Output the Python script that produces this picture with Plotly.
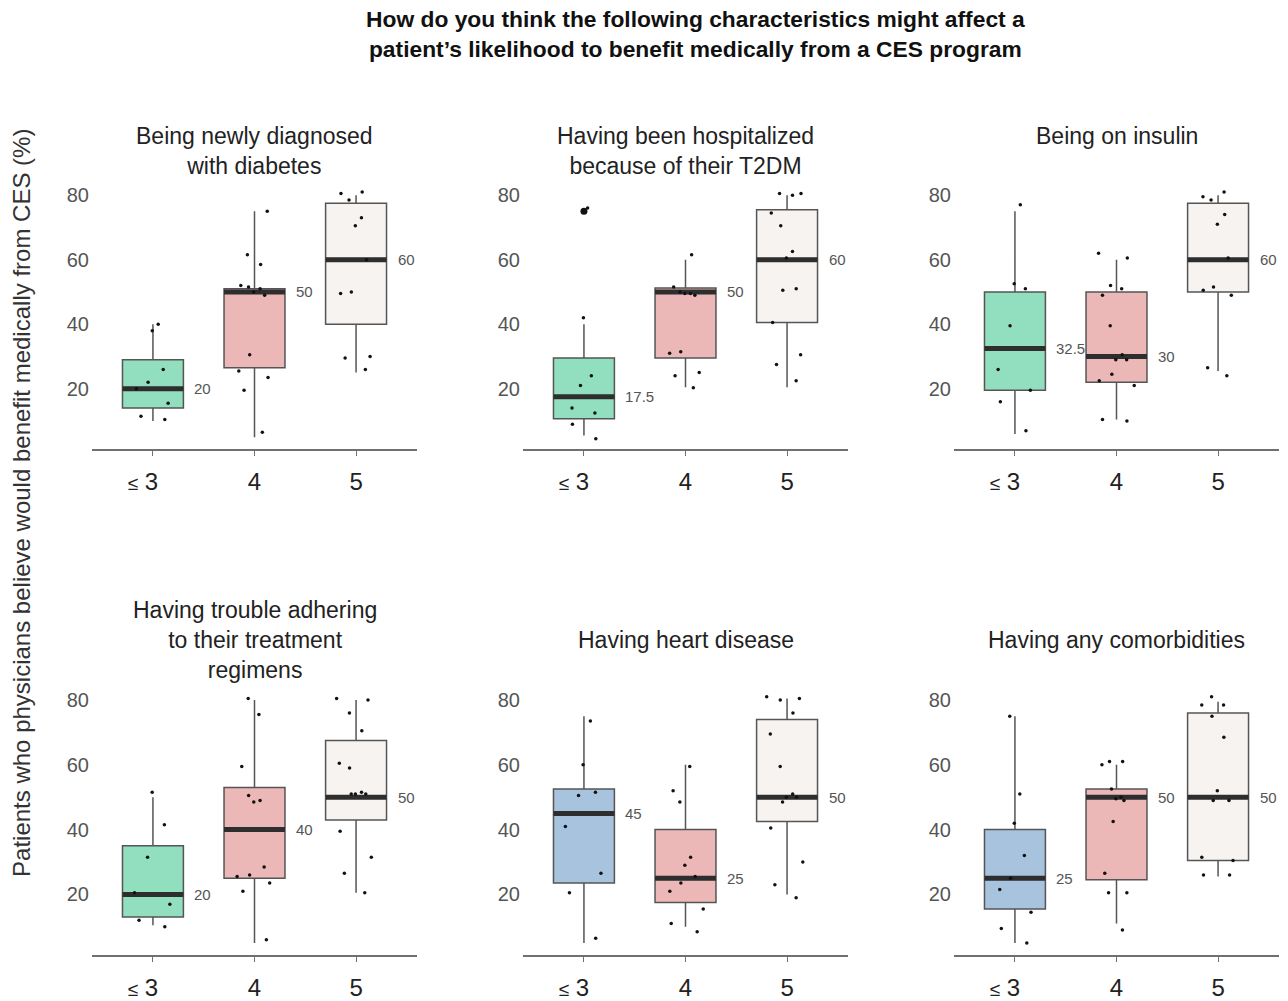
import plotly.graph_objects as go

# ---------------- data ----------------
categories = ["<span style='font-size:19px'>≤</span> 3\u00a0\u00a0\u00a0", "4", "5"]

panel_titles = [
    "Being newly diagnosed<br>with diabetes",
    "Having been hospitalized<br>because of their T2DM",
    "Being on insulin",
    "Having trouble adhering<br>to their treatment<br>regimens",
    "Having heart disease",
    "Having any comorbidities",
]

main_title = ("How do you think the following characteristics might affect a<br>"
              "patient’s likelihood to benefit medically from a CES program")
y_title = "Patients who physicians believe would benefit medically from CES (%)"

# box statistics per panel, one value per category (≤3, 4, 5)
q1_vals = [[14, 26.5, 40], [10.7, 29.5, 40.5], [19.5, 22, 50],
           [13, 25, 43], [23.5, 17.5, 42.5], [15.5, 24.5, 30.5]]
median_vals = [[20, 50, 60], [17.5, 50, 60], [32.5, 30, 60],
               [20, 40, 50], [45, 25, 50], [25, 50, 50]]
q3_vals = [[29, 51, 77.5], [29.5, 51.2, 75.5], [50, 50, 77.5],
           [35, 53, 67.5], [52.5, 40, 74], [40, 52.5, 76]]
lower_vals = [[10, 5, 25], [5.5, 20.5, 20.5], [6, 10.5, 25.5],
              [10.5, 5, 20.5], [5, 10, 20], [5, 11, 25.5]]
upper_vals = [[40, 75, 80], [40, 60, 80], [75, 60, 80],
              [50, 80, 80], [75, 60, 80.5], [75, 60, 79.5]]

# individual responses per panel and category
points = [
    [  # Being newly diagnosed
        [40, 38, 26, 22, 20, 15.5, 11.5, 10.5],
        [75, 61.5, 58.5, 52, 51, 51.5, 50, 49, 30.5, 25.5, 23.5, 19.5, 6.5],
        [81, 80.5, 78.5, 73, 70.5, 60, 50, 49.5, 30, 29.5, 26],
    ],
    [  # Hospitalized
        [76, 42, 24, 21, 14, 12.5, 9, 4.5],
        [61.5, 51.5, 49, 49.5, 49.5, 50, 31, 31.5, 24, 25, 20.3],
        [80, 80.5, 80.5, 74.5, 70.5, 62.5, 60.5, 51, 50.5, 40.5, 30.5, 27.5, 22.5],
    ],
    [  # Insulin
        [77, 52.5, 51, 39.5, 26, 19.5, 16, 7],
        [62, 60.5, 52, 51, 49, 39.5, 30.5, 29, 29, 24.5, 22.5, 21, 10.5, 10],
        [81, 79.5, 78.5, 74, 71, 60.5, 50.5, 51.5, 49, 26.5, 24],
    ],
    [  # Trouble adhering
        [51.5, 41.5, 31.5, 20.5, 17, 12, 10],
        [80.5, 75.5, 59.5, 49, 48.5, 50.5, 28.5, 23.5, 21, 25.5, 26, 6],
        [80, 80.5, 76, 70.5, 59, 60.5, 51.5, 51, 51, 51, 39.5, 31.5, 26.5, 20.5],
    ],
    [  # Heart disease
        [73.5, 60, 50.5, 51.5, 41, 26.5, 20.5, 6.5],
        [52, 48.5, 59.5, 31.5, 29, 25.5, 23.5, 21, 15.5, 11, 8.5],
        [80.5, 80, 81, 76, 69.5, 59.5, 51, 50, 48.5, 50, 40.5, 30, 23, 19],
    ],
    [  # Any comorbidities
        [75, 51, 42, 32, 25, 21.5, 14.5, 9.5, 5],
        [61, 60, 61, 52.5, 50, 49.5, 49, 42.5, 26.5, 20.5, 20.5, 9],
        [81, 78.5, 78.5, 75, 68.5, 52, 49, 49, 31.5, 30.5, 26, 26],
    ],
]

# outlying values drawn as larger dots: (panel, category index, value)
outliers = [(1, 0, 75)]

# ---------------- style ----------------
W, H = 1288, 1001
first_colors = ["#91dfbe", "#91dfbe", "#91dfbe", "#91dfbe", "#a7c3de", "#a7c3de"]
other_colors = ["#ebb7b7", "#f7f3f0"]
x_dom_px = [(92, 417), (523, 848), (954, 1279)]
y_dom_px = [(183.7, 452.7), (692.6, 962.7)]
BOX_W = 0.6
FONT = "Liberation Sans, Arial, sans-serif"


def fy(px):
    return 1 - px / H


fig = go.Figure()
layout = dict(
    width=W, height=H,
    margin=dict(l=0, r=0, t=0, b=0),
    paper_bgcolor="white", plot_bgcolor="white",
    showlegend=False,
    font=dict(family=FONT, color="#222"),
    annotations=[],
)

for p in range(6):
    r, c = divmod(p, 3)
    sfx = "" if p == 0 else str(p + 1)
    xa, ya = "x" + sfx, "y" + sfx
    layout["xaxis" + sfx] = dict(
        domain=[x_dom_px[c][0] / W, x_dom_px[c][1] / W], anchor=ya,
        range=[-0.6, 2.6], tickmode="array", tickvals=[0, 1, 2], ticktext=categories,
        showline=True, linecolor="#707070", linewidth=1.5,
        ticks="outside", ticklen=5, tickcolor="#707070", tickwidth=1.2,
        showgrid=False, zeroline=False,
        tickfont=dict(size=24, color="#222", family=FONT),
        ticklabelstandoff=5,
    )
    layout["yaxis" + sfx] = dict(
        domain=[fy(y_dom_px[r][1]), fy(y_dom_px[r][0])], anchor=xa,
        range=[1.3, 84], tickmode="array", tickvals=[20, 40, 60, 80],
        showline=False, showgrid=False, zeroline=False, ticks="",
        tickfont=dict(size=20, color="#555", family=FONT),
        ticklabelstandoff=2,
    )
    colors = [first_colors[p]] + other_colors
    for i in range(3):
        # box body and whiskers
        fig.add_trace(go.Box(
            x=[i], q1=[q1_vals[p][i]], median=[median_vals[p][i]], q3=[q3_vals[p][i]],
            lowerfence=[lower_vals[p][i]], upperfence=[upper_vals[p][i]],
            width=BOX_W, whiskerwidth=0, fillcolor=colors[i],
            line=dict(color="#555555", width=1.5), boxpoints=False,
            xaxis=xa, yaxis=ya, hoverinfo="skip",
        ))
        # thick median bar
        m = median_vals[p][i]
        fig.add_trace(go.Box(
            x=[i], q1=[m], median=[m], q3=[m], lowerfence=[m], upperfence=[m],
            width=BOX_W, whiskerwidth=0, fillcolor="#2e2e2e",
            line=dict(color="#2e2e2e", width=5), boxpoints=False,
            xaxis=xa, yaxis=ya, hoverinfo="skip",
        ))
        # jittered responses
        pts = points[p][i]
        fig.add_trace(go.Box(
            x=[i] * len(pts), y=pts, boxpoints="all", jitter=0.75, pointpos=0,
            width=BOX_W, fillcolor="rgba(0,0,0,0)",
            line=dict(color="rgba(0,0,0,0)", width=0),
            marker=dict(color="#111", size=3.5),
            xaxis=xa, yaxis=ya, hoverinfo="skip",
        ))
        layout["annotations"].append(dict(
            x=i + BOX_W / 2, y=m, xref=xa, yref=ya, xanchor="left", yanchor="middle",
            xshift=9, text=f"{m:g}", showarrow=False,
            font=dict(size=15, color="#555", family=FONT),
        ))
    # panel title
    xc = (x_dom_px[c][0] + x_dom_px[c][1]) / 2 / W
    if r == 0:
        layout["annotations"].append(dict(
            x=xc, y=fy(122), xref="paper", yref="paper", xanchor="center", yanchor="top",
            text=panel_titles[p], showarrow=False, font=dict(size=23, color="#222", family=FONT)))
    else:
        layout["annotations"].append(dict(
            x=xc, y=fy(645), xref="paper", yref="paper", xanchor="center", yanchor="middle",
            text=panel_titles[p], showarrow=False, font=dict(size=23, color="#222", family=FONT)))

for (p, i, v) in outliers:
    sfx = "" if p == 0 else str(p + 1)
    fig.add_trace(go.Scatter(x=[i], y=[v], mode="markers", marker=dict(color="#111", size=7),
                             xaxis="x" + sfx, yaxis="y" + sfx, hoverinfo="skip"))

# main title and y-axis title
layout["annotations"].append(dict(
    x=695.5 / W, y=fy(34.5), xref="paper", yref="paper", xanchor="center", yanchor="middle",
    text="<b>" + main_title.replace("<br>", "</b><br><b>") + "</b>", showarrow=False,
    font=dict(size=22.8, color="#111", family=FONT)))
layout["annotations"].append(dict(
    x=22 / W, y=fy(507), xref="paper", yref="paper", xanchor="center", yanchor="middle",
    text=y_title, textangle=-90, showarrow=False,
    font=dict(size=24, color="#333", family=FONT)))

fig.update_layout(**layout)
fig.write_html("out.html")
